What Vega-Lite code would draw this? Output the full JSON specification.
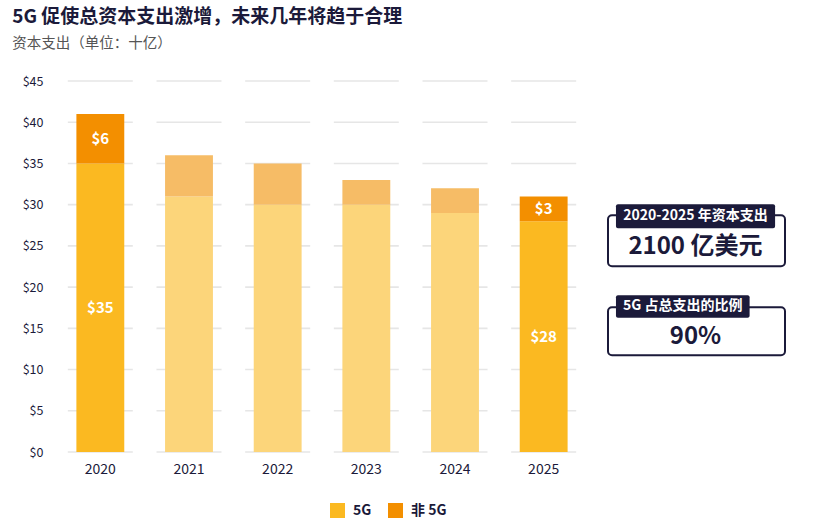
{
  "$schema": "https://vega.github.io/schema/vega-lite/v6.json",
  "background": "white",
  "padding": {"left": 12, "top": 7, "right": 5, "bottom": 5},
  "config": {
    "font": "Noto Sans CJK SC",
    "view": {"stroke": null},
    "axisX": {"labelFontSize": 14, "labelColor": "#1b1a3a", "labelPadding": 10, "domain": false, "ticks": false, "labelAngle": 0, "grid": false},
    "axisY": {"labelFontSize": 12.5, "labelColor": "#1b1a3a", "labelPadding": 13, "domain": false, "ticks": false, "grid": false}
  },
  "title": {
    "text": "5G 促使总资本支出激增，未来几年将趋于合理",
    "subtitle": "资本支出（单位：十亿）",
    "anchor": "start",
    "frame": "bounds",
    "dx": -10,
    "fontSize": 19,
    "fontWeight": "bold",
    "color": "#1b1a3a",
    "subtitleFontSize": 14.5,
    "subtitleColor": "#555555",
    "subtitlePadding": 10,
    "offset": 25
  },
  "datasets": {
    "capex": [
      {"year": "2020", "type": "5G", "value": 35},
      {"year": "2020", "type": "非 5G", "value": 6},
      {"year": "2021", "type": "5G", "value": 31},
      {"year": "2021", "type": "非 5G", "value": 5},
      {"year": "2022", "type": "5G", "value": 30},
      {"year": "2022", "type": "非 5G", "value": 5},
      {"year": "2023", "type": "5G", "value": 30},
      {"year": "2023", "type": "非 5G", "value": 3},
      {"year": "2024", "type": "5G", "value": 29},
      {"year": "2024", "type": "非 5G", "value": 3},
      {"year": "2025", "type": "5G", "value": 28},
      {"year": "2025", "type": "非 5G", "value": 3}
    ],
    "grid": [
      {"year": "2020", "ticks": [0, 5, 10, 15, 20, 25, 30, 35, 40, 45]},
      {"year": "2021", "ticks": [0, 5, 10, 15, 20, 25, 30, 35, 40, 45]},
      {"year": "2022", "ticks": [0, 5, 10, 15, 20, 25, 30, 35, 40, 45]},
      {"year": "2023", "ticks": [0, 5, 10, 15, 20, 25, 30, 35, 40, 45]},
      {"year": "2024", "ticks": [0, 5, 10, 15, 20, 25, 30, 35, 40, 45]},
      {"year": "2025", "ticks": [0, 5, 10, 15, 20, 25, 30, 35, 40, 45]}
    ],
    "notes": [
      {"label": "2020-2025 年资本支出", "value": "2100 亿美元"},
      {"label": "5G 占总支出的比例", "value": "90%"}
    ]
  },
  "spacing": 19,
  "hconcat": [
    {
      "width": 532,
      "height": 371,
      "layer": [
        {
          "data": {"name": "grid"},
          "transform": [{"flatten": ["ticks"]}],
          "mark": {"type": "tick", "color": "#dcdcdc", "size": 65, "thickness": 1.6},
          "encoding": {
            "x": {"field": "year", "type": "ordinal", "title": null, "scale": {"paddingInner": 0.46, "paddingOuter": 0.23}},
            "y": {"field": "ticks", "type": "quantitative", "title": null, "scale": {"domain": [0, 45]}, "axis": {"values": [0, 5, 10, 15, 20, 25, 30, 35, 40, 45], "format": "$d"}}
          }
        },
        {
          "data": {"name": "capex"},
          "transform": [
            {"stack": "value", "groupby": ["year"], "sort": [{"field": "type", "order": "ascending"}], "as": ["v0", "v1"]},
            {"calculate": "(datum.v0 + datum.v1) / 2", "as": "mid"}
          ],
          "layer": [
            {
              "mark": {"type": "bar"},
              "encoding": {
                "x": {"field": "year", "type": "ordinal", "title": null},
                "y": {"field": "v0", "type": "quantitative", "title": null, "axis": {"values": [0, 5, 10, 15, 20, 25, 30, 35, 40, 45], "format": "$d"}},
                "y2": {"field": "v1"},
                "color": {
                  "condition": [
                    {"test": "datum.year !== '2020' && datum.year !== '2025' && datum.type === '5G'", "value": "#FCD57A"},
                    {"test": "datum.year !== '2020' && datum.year !== '2025' && datum.type !== '5G'", "value": "#F6BC66"}
                  ],
                  "field": "type",
                  "type": "nominal",
                  "scale": {"domain": ["5G", "非 5G"], "range": ["#FBB921", "#F38F00"]},
                  "legend": {
                    "title": null,
                    "orient": "none",
                    "direction": "horizontal",
                    "legendX": 274,
                    "legendY": 422,
                    "symbolType": "square",
                    "symbolSize": 225,
                    "symbolStrokeWidth": 0,
                    "symbolOpacity": 1,
                    "labelFontSize": 14,
                    "labelFontWeight": "bold",
                    "labelColor": "#1b1a3a",
                    "labelOffset": 8,
                    "columnPadding": 16
                  }
                }
              }
            },
            {
              "transform": [{"filter": "datum.year === '2020' || datum.year === '2025'"}],
              "mark": {"type": "text", "color": "white", "fontWeight": "bold", "fontSize": 15},
              "encoding": {
                "x": {"field": "year", "type": "ordinal", "title": null},
                "y": {"field": "mid", "type": "quantitative", "title": null},
                "text": {"field": "value", "type": "quantitative", "format": "$d"}
              }
            }
          ]
        }
      ]
    },
    {
      "width": 177,
      "height": 371,
      "data": {"name": "notes"},
      "layer": [
        {
          "transform": [{"filter": "datum.label === '2020-2025 年资本支出'"}],
          "mark": {"type": "rect", "fill": "white", "stroke": "#1b1a3a", "strokeWidth": 2, "cornerRadius": 4},
          "encoding": {
            "x": {"datum": 0, "type": "quantitative", "scale": {"domain": [0, 1]}, "axis": null},
            "x2": {"datum": 1},
            "y": {"datum": 28.71, "type": "quantitative", "scale": {"domain": [0, 45]}, "axis": null},
            "y2": {"datum": 22.53}
          }
        },
        {
          "transform": [{"filter": "datum.label === '2020-2025 年资本支出'"}],
          "mark": {"type": "rect", "fill": "#1b1a3a", "cornerRadius": 2},
          "encoding": {
            "x": {"datum": 0.045, "type": "quantitative"},
            "x2": {"datum": 0.944},
            "y": {"datum": 30.04, "type": "quantitative"},
            "y2": {"datum": 27.13}
          }
        },
        {
          "transform": [{"filter": "datum.label === '2020-2025 年资本支出'"}],
          "mark": {"type": "text", "color": "white", "fontWeight": "bold", "fontSize": 14, "baseline": "middle"},
          "encoding": {
            "x": {"datum": 0.494, "type": "quantitative"},
            "y": {"datum": 28.59, "type": "quantitative"},
            "text": {"field": "label"}
          }
        },
        {
          "transform": [{"filter": "datum.label === '2020-2025 年资本支出'"}],
          "mark": {"type": "text", "color": "#1b1a3a", "fontWeight": "bold", "fontSize": 24, "baseline": "middle"},
          "encoding": {
            "x": {"datum": 0.494, "type": "quantitative"},
            "y": {"datum": 24.83, "type": "quantitative"},
            "text": {"field": "value"}
          }
        },
        {
          "transform": [{"filter": "datum.label === '5G 占总支出的比例'"}],
          "mark": {"type": "rect", "fill": "white", "stroke": "#1b1a3a", "strokeWidth": 2, "cornerRadius": 4},
          "encoding": {
            "x": {"datum": 0, "type": "quantitative"},
            "x2": {"datum": 1},
            "y": {"datum": 17.55, "type": "quantitative"},
            "y2": {"datum": 11.73}
          }
        },
        {
          "transform": [{"filter": "datum.label === '5G 占总支出的比例'"}],
          "mark": {"type": "rect", "fill": "#1b1a3a", "cornerRadius": 2},
          "encoding": {
            "x": {"datum": 0.045, "type": "quantitative"},
            "x2": {"datum": 0.8},
            "y": {"datum": 19.01, "type": "quantitative"},
            "y2": {"datum": 16.28}
          }
        },
        {
          "transform": [{"filter": "datum.label === '5G 占总支出的比例'"}],
          "mark": {"type": "text", "color": "white", "fontWeight": "bold", "fontSize": 14, "baseline": "middle"},
          "encoding": {
            "x": {"datum": 0.422, "type": "quantitative"},
            "y": {"datum": 17.67, "type": "quantitative"},
            "text": {"field": "label"}
          }
        },
        {
          "transform": [{"filter": "datum.label === '5G 占总支出的比例'"}],
          "mark": {"type": "text", "color": "#1b1a3a", "fontWeight": "bold", "fontSize": 24, "baseline": "middle"},
          "encoding": {
            "x": {"datum": 0.494, "type": "quantitative"},
            "y": {"datum": 13.9, "type": "quantitative"},
            "text": {"field": "value"}
          }
        }
      ]
    }
  ]
}
